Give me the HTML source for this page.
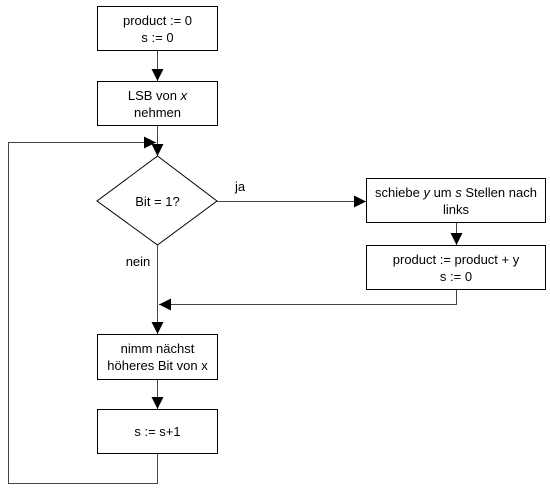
<!DOCTYPE html>
<html><head><style>body{margin:0;background:#fff}</style></head><body>
<svg width="550" height="488" xmlns="http://www.w3.org/2000/svg" font-family="Liberation Sans, Arial, sans-serif" font-size="13" fill="none">
<defs><marker id="a" markerWidth="12" markerHeight="12" refX="12" refY="6" orient="auto" markerUnits="userSpaceOnUse"><path d="M0,0 L12,6 L0,12 Z" fill="#000"/></marker></defs>
<g stroke="#000" stroke-width="1">
<rect x="97.5" y="6.5" width="120" height="44" fill="#fff"/>
<rect x="97.5" y="81.5" width="120" height="44" fill="#fff"/>
<path d="M157.5 156 L217 201 L157.5 245 L97 201 Z" fill="#fff"/>
<rect x="366.5" y="178.5" width="179" height="44" fill="#fff"/>
<rect x="366.5" y="245.5" width="179" height="44" fill="#fff"/>
<rect x="97.5" y="334.5" width="120" height="45" fill="#fff"/>
<rect x="97.5" y="409.5" width="120" height="44" fill="#fff"/>
<g stroke="#444">
<line x1="157.5" y1="51" x2="157.5" y2="81" marker-end="url(#a)"/>
<line x1="157.5" y1="126" x2="157.5" y2="156" marker-end="url(#a)"/>
<polyline points="157.5,454 157.5,483.5 8.5,483.5 8.5,142.5 156,142.5" marker-end="url(#a)"/>
<line x1="217" y1="201.5" x2="366" y2="201.5" marker-end="url(#a)"/>
<line x1="456.5" y1="223" x2="456.5" y2="245" marker-end="url(#a)"/>
<polyline points="456.5,290 456.5,304.5 159,304.5" marker-end="url(#a)"/>
<line x1="157.5" y1="245" x2="157.5" y2="334" marker-end="url(#a)"/>
<line x1="157.5" y1="380" x2="157.5" y2="409" marker-end="url(#a)"/>
</g>
</g>
<g fill="#000" text-anchor="middle">
<text x="157.5" y="25">product := 0</text>
<text x="157.5" y="42">s := 0</text>
<text x="157.5" y="100">LSB von <tspan font-style="italic">x</tspan></text>
<text x="157.5" y="117">nehmen</text>
<text x="157.5" y="206">Bit = 1?</text>
<text x="456" y="197">schiebe <tspan font-style="italic">y</tspan> um <tspan font-style="italic">s</tspan> Stellen nach</text>
<text x="456" y="214">links</text>
<text x="456" y="264">product := product + y</text>
<text x="456" y="281">s := 0</text>
<text x="157.5" y="353">nimm nächst</text>
<text x="157.5" y="370">höheres Bit von x</text>
<text x="157.5" y="436">s := s+1</text>
<text x="240" y="191">ja</text>
<text x="138" y="266">nein</text>
</g>
</svg>
</body></html>
